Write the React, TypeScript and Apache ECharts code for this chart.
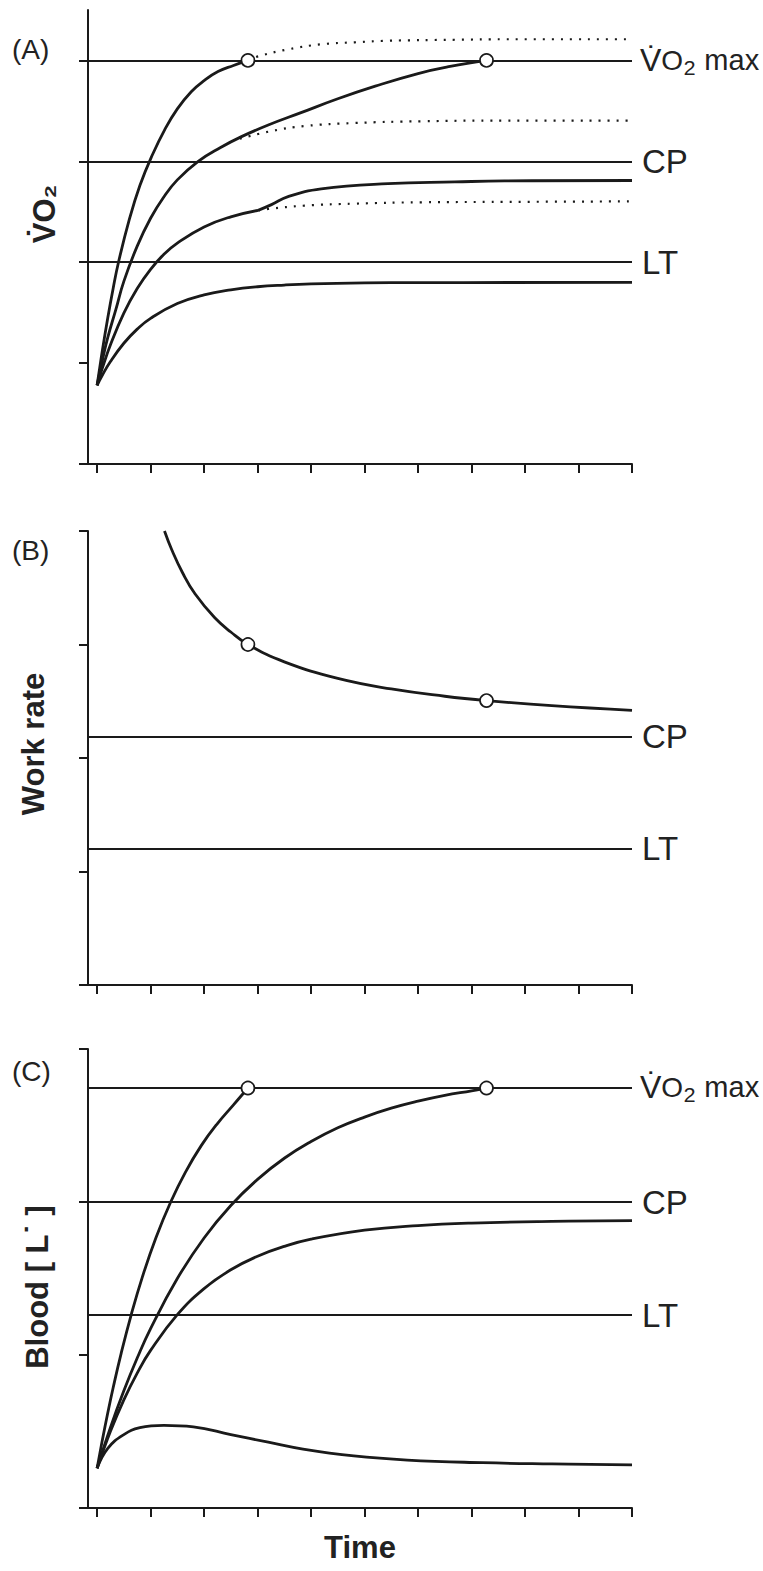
import React, { useEffect, useRef } from "react";
import * as echarts from "echarts";

// ---------- shared ----------
const timeTicks = [0, 1, 2, 3, 4, 5, 6, 7, 8, 9, 10];
const panelLetters = ["(A)", "(B)", "(C)"];
const yTitles = ["V\u0307O\u2082", "Work rate", "Blood [ L\u02D9 ]"];
const xTitle = "Time";
const vo2maxName = "V\u0307O\u2082 max";

// ---------- Panel A: VO2 ----------
const aTicks = [0, 1, 2, 3, 4];
const aRefs: [number, string][] = [
  [4.0, vo2maxName],
  [3.0, "CP"],
  [2.0, "LT"],
];
const aSevere = [
  [0, 0.78], [0.1, 1.13], [0.2, 1.45], [0.3, 1.74], [0.4, 2.0], [0.6, 2.42],
  [0.8, 2.76], [1.03, 3.06], [1.27, 3.32], [1.5, 3.52], [1.76, 3.69],
  [2.0, 3.8], [2.26, 3.89], [2.55, 3.95], [2.82, 4.0],
];
const aSevereProjected = [
  [2.82, 4.0], [3.01, 4.04], [3.57, 4.11], [4.19, 4.16], [4.82, 4.18],
  [5.44, 4.195], [6.69, 4.205], [7.63, 4.21], [10, 4.21],
];
const aHeavyHigh = [
  [0, 0.78], [0.1, 1.03], [0.2, 1.255], [0.35, 1.53], [0.5, 1.81], [0.75, 2.16],
  [1.0, 2.436], [1.25, 2.649], [1.5, 2.816], [1.89, 3.0], [2.3, 3.135],
  [2.7, 3.245], [3.2, 3.36], [3.8, 3.48], [4.5, 3.62], [5.2, 3.745],
  [6.0, 3.87], [6.6, 3.94], [7.28, 4.0],
];
const aHeavyHighProjected = [
  [2.67, 3.225], [3.26, 3.3], [3.88, 3.35], [4.82, 3.38], [6.06, 3.397],
  [7.62, 3.404], [10, 3.404],
];
const aHeavyLowFast = [
  [0, 0.78], [0.1, 0.953], [0.25, 1.182], [0.5, 1.496], [0.75, 1.74],
  [1.0, 1.93], [1.25, 2.08], [1.5, 2.19], [2.0, 2.35], [2.5, 2.45], [3.01, 2.514],
];
const aHeavyLowSlow = [
  [3.01, 2.514], [3.26, 2.571], [3.57, 2.65], [4.19, 2.727], [5.44, 2.779],
  [6.69, 2.796], [7.62, 2.806], [10, 2.81],
];
const aHeavyLowProjected = [
  [3.01, 2.514], [3.2, 2.528], [3.88, 2.561], [4.82, 2.581], [6.06, 2.594],
  [7.62, 2.598], [10, 2.603],
];
const aModerate = [
  [0, 0.78], [0.1, 0.882], [0.25, 1.016], [0.5, 1.197], [0.75, 1.337],
  [1.0, 1.444], [1.5, 1.59], [2.0, 1.676], [2.5, 1.726], [3.0, 1.757],
  [3.5, 1.774], [4.0, 1.785], [5.0, 1.795], [6.0, 1.798], [10, 1.8],
];
const aExhaustion = [[2.82, 4.0], [7.28, 4.0]];

// ---------- Panel B: Work rate ----------
const bTicks = [0, 1, 2, 3, 4];
const bRefs: [number, string][] = [
  [2.19, "CP"],
  [1.2, "LT"],
];
const bPowerDuration = [
  [1.26, 4.0], [1.4, 3.83], [1.6, 3.63], [1.83, 3.447], [2.2, 3.235],
  [2.5, 3.11], [2.82, 3.0], [3.5, 2.847], [4.5, 2.701], [5.5, 2.608],
  [6.5, 2.544], [7.28, 2.506], [8.5, 2.461], [10, 2.42],
];
const bExhaustion = [[2.82, 3.0], [7.28, 2.506]];

// ---------- Panel C: Blood lactate ----------
const cTicks = [0, 1, 2, 3];
const cRefs: [number, string][] = [
  [2.745, vo2maxName],
  [2.0, "CP"],
  [1.265, "LT"],
];
const cSevere = [
  [0, 0.26], [0.1, 0.447], [0.2, 0.622], [0.3, 0.786], [0.45, 1.011],
  [0.64, 1.266], [0.85, 1.514], [1.1, 1.767], [1.376, 2.0], [1.65, 2.194],
  [1.95, 2.37], [2.25, 2.513], [2.55, 2.635], [2.82, 2.745],
];
const cHeavyHigh = [
  [0, 0.26], [0.25, 0.527], [0.5, 0.766], [0.75, 0.98], [1.0, 1.173],
  [1.5, 1.5], [2.0, 1.765], [2.5, 1.977], [3.0, 2.148], [3.5, 2.286],
  [4.0, 2.395], [4.5, 2.485], [5.0, 2.555], [5.5, 2.613], [6.0, 2.659],
  [6.5, 2.697], [7.0, 2.727], [7.28, 2.745],
];
const cHeavyLow = [
  [0, 0.26], [0.25, 0.501], [0.5, 0.707], [0.75, 0.882], [1.0, 1.03],
  [1.5, 1.264], [2.0, 1.434], [2.5, 1.557], [3.0, 1.646], [3.5, 1.71],
  [4.0, 1.757], [5.0, 1.816], [6.0, 1.846], [7.0, 1.862], [8.5, 1.873],
  [10, 1.878],
];
const cModerate = [
  [0, 0.26], [0.2, 0.39], [0.5, 0.48], [0.8, 0.525], [1.25, 0.54],
  [1.8, 0.53], [2.5, 0.48], [3.2, 0.43], [3.85, 0.385], [4.8, 0.34],
  [5.8, 0.313], [7.2, 0.296], [8.5, 0.288], [10, 0.282],
];
const cExhaustion = [[2.82, 2.745], [7.28, 2.745]];

// ---------- styling ----------
const FONT = "'Liberation Sans', Arial, Helvetica, sans-serif";
const INK = "#1a1a1a";
const TEXT = "#222222";

const vo2Rich = {
  v: { fontSize: 32, fontFamily: FONT, color: TEXT },
  o: { fontSize: 28, fontFamily: FONT, color: TEXT },
  s: { fontSize: 34, fontFamily: FONT, color: TEXT },
  m: { fontSize: 29, fontFamily: FONT, color: TEXT },
};

function refLines(items: [number, string][]) {
  return {
    silent: true,
    symbol: ["none", "none"],
    lineStyle: { color: INK, width: 2, type: "solid" },
    label: {
      show: true,
      position: "end",
      distance: 10,
      formatter: "{b}",
      fontSize: 33,
      fontFamily: FONT,
      color: TEXT,
    },
    emphasis: { disabled: true },
    data: items.map(([v, n]) =>
      n === vo2maxName
        ? {
            yAxis: v,
            name: n,
            label: {
              distance: 8,
              formatter: "{v|V\u0307}{o|O}{s|\u2082}{m| max}",
              rich: vo2Rich,
            },
          }
        : { yAxis: v, name: n }
    ),
  };
}

function curve(g: number, data: number[][], extra: any = {}) {
  return {
    type: "line",
    xAxisIndex: g,
    yAxisIndex: g,
    data,
    symbol: "none",
    showSymbol: false,
    smooth: 0.45,
    silent: true,
    z: 3,
    lineStyle: { color: INK, width: 2.8 },
    ...extra,
  };
}

function dotted(g: number, data: number[][]) {
  return curve(g, data, {
    z: 2,
    lineStyle: { color: INK, width: 2.2, type: [2, 7] },
  });
}

function circles(g: number, data: number[][]) {
  return {
    type: "scatter",
    xAxisIndex: g,
    yAxisIndex: g,
    data,
    symbol: "circle",
    symbolSize: 13,
    silent: true,
    z: 5,
    itemStyle: { color: "#ffffff", opacity: 1, borderColor: INK, borderWidth: 1.7 },
  };
}

const grids = [
  { left: 88, right: 131, top: 10, height: 454 },
  { left: 88, right: 131, top: 531, height: 454 },
  { left: 88, right: 131, top: 1049, height: 459 },
];
const yMax = [4.5, 4, 3];
const yTickSets = [aTicks, bTicks, cTicks];

const titlePos = [
  { x: 44, y: 214 },
  { x: 33, y: 744 },
  { x: 37, y: 1287 },
];
const letterPos = [49, 550, 1071];

export default function App() {
  const ref = useRef<HTMLDivElement>(null);
  useEffect(() => {
    if (!ref.current) return;
    const chart = echarts.init(ref.current, undefined, { renderer: "svg" });
    const option: any = {
      animation: false,
      backgroundColor: "#ffffff",
      grid: grids,
      xAxis: grids.map((_, i) => ({
        type: "value",
        gridIndex: i,
        min: -0.17,
        max: 10,
        axisLine: { show: true, onZero: false, lineStyle: { color: INK, width: 2 } },
        axisTick: {
          show: true,
          length: 9,
          customValues: timeTicks,
          lineStyle: { color: INK, width: 2 },
        },
        axisLabel: { show: false },
        splitLine: { show: false },
      })),
      yAxis: grids.map((_, i) => ({
        type: "value",
        gridIndex: i,
        min: 0,
        max: yMax[i],
        axisLine: { show: true, onZero: false, lineStyle: { color: INK, width: 2 } },
        axisTick: {
          show: true,
          length: 9,
          customValues: yTickSets[i],
          lineStyle: { color: INK, width: 2 },
        },
        axisLabel: { show: false },
        splitLine: { show: false },
      })),
      series: [
        // Panel A
        curve(0, aModerate, { markLine: refLines(aRefs) }),
        curve(0, aSevere),
        dotted(0, aSevereProjected),
        curve(0, aHeavyHigh),
        dotted(0, aHeavyHighProjected),
        curve(0, aHeavyLowFast),
        curve(0, aHeavyLowSlow),
        dotted(0, aHeavyLowProjected),
        circles(0, aExhaustion),
        // Panel B
        curve(1, bPowerDuration, { markLine: refLines(bRefs) }),
        circles(1, bExhaustion),
        // Panel C
        curve(2, cModerate, { markLine: refLines(cRefs) }),
        curve(2, cSevere),
        curve(2, cHeavyHigh),
        curve(2, cHeavyLow),
        circles(2, cExhaustion),
      ],
      graphic: [
        ...panelLetters.map((t, i) => ({
          type: "text",
          x: 12,
          y: letterPos[i],
          silent: true,
          style: {
            text: t,
            fontSize: 28,
            fontFamily: FONT,
            fill: TEXT,
            align: "left",
            verticalAlign: "middle",
          },
        })),
        ...yTitles.map((t, i) => ({
          type: "text",
          x: titlePos[i].x,
          y: titlePos[i].y,
          rotation: Math.PI / 2,
          silent: true,
          style: {
            text: t,
            fontSize: 31,
            fontWeight: "bold",
            fontFamily: FONT,
            fill: TEXT,
            align: "center",
            verticalAlign: "middle",
          },
        })),
        {
          type: "text",
          x: 360,
          y: 1547,
          silent: true,
          style: {
            text: xTitle,
            fontSize: 31,
            fontWeight: "bold",
            fontFamily: FONT,
            fill: TEXT,
            align: "center",
            verticalAlign: "middle",
          },
        },
      ],
    };
    chart.setOption(option);
    return () => chart.dispose();
  }, []);
  return (
    <div
      ref={ref}
      style={{ position: "absolute", left: 0, top: 0, width: 763, height: 1571 }}
    />
  );
}
